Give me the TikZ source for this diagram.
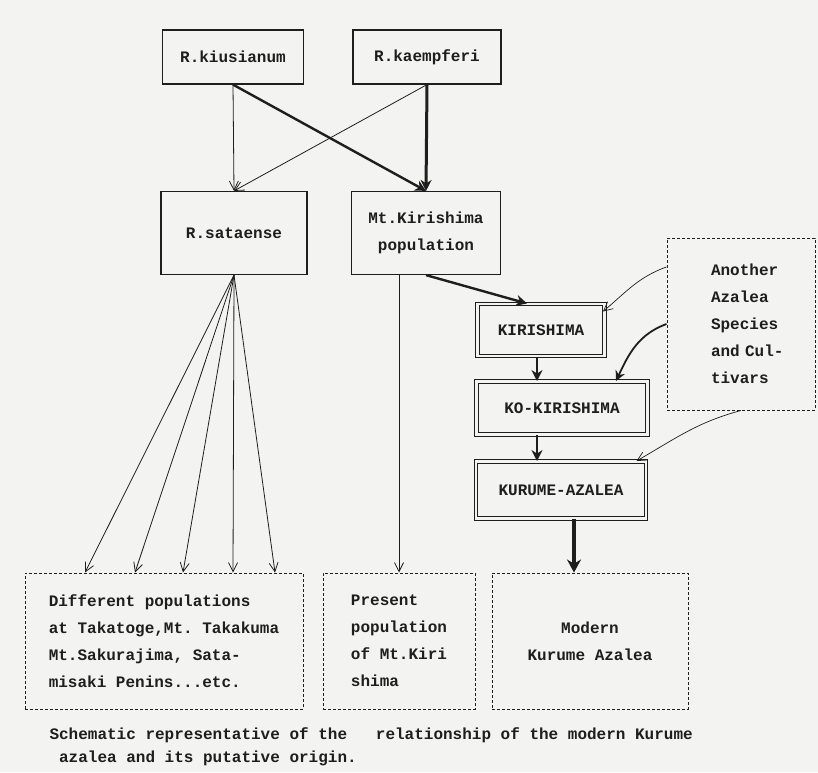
\documentclass[tikz,border=0pt]{standalone}
\usepackage{fontspec}
\setmonofont{Liberation Mono}
\usepackage{tikz}
\usetikzlibrary{arrows.meta, calc}
\definecolor{paper}{HTML}{F3F3F1}
\definecolor{ink}{HTML}{1E1E1E}

\begin{document}
\begin{tikzpicture}[x=1pt,y=-1pt,
  every node/.style={font=\fontsize{16}{27}\selectfont\ttfamily\bfseries,text=ink},
  plainbox/.style={draw=ink,line width=1.2pt,inner sep=0pt},
  dblbox/.style={draw=ink,double=paper,double distance=2.4pt,line width=1pt,inner sep=0pt},
  dotbox/.style={draw=ink,densely dashed,line width=1pt,inner sep=0pt},
  thinarrow/.style={draw=ink,line width=0.8pt,-{Straight Barb[length=9pt,width=9pt]}},
  heavyarrow/.style={draw=ink,line width=2.4pt,-{Stealth[length=11pt,width=11pt]}}]
  \useasboundingbox[fill=paper] (0,0) rectangle (818,772);
  \node[plainbox,minimum width=141pt,minimum height=54pt] (kiu) at (233,57) {R.kiusianum};
  \node[plainbox,minimum width=148pt,minimum height=54pt] (kae) at (427,57) {R.kaempferi};
  \node[plainbox,minimum width=146pt,minimum height=83pt] (sat) at (234,233) {R.sataense};
  \node[plainbox,minimum width=149pt,minimum height=83pt,align=center] (mtk) at (426,233) {Mt.Kirishima\\population};
  \node[dblbox,minimum width=127pt,minimum height=52pt] (kiri) at (541,330) {KIRISHIMA};
  \node[dblbox,minimum width=171pt,minimum height=53pt] (kokiri) at (562,408) {KO-KIRISHIMA};
  \node[dblbox,minimum width=170pt,minimum height=57pt] (kurume) at (561,490) {KURUME-AZALEA};
  \node[dotbox,minimum width=148pt,minimum height=172pt,align=left,text width=104pt] (other) at (741,324)
    {\hspace*{22pt}Another\\\hspace*{22pt}Azalea\\\hspace*{22pt}Species\\\hspace*{22pt}and Cul-\\\hspace*{22pt}tivars};
  \node[dotbox,minimum width=278pt,minimum height=136pt,align=left] (diff) at (164,641)
    {Different populations\\at Takatoge,Mt. Takakuma\\Mt.Sakurajima, Sata-\\misaki Penins...etc.};
  \node[dotbox,minimum width=152pt,minimum height=136pt,align=left] (pres) at (399,641)
    {Present\\population\\of Mt.Kiri\\shima};
  \node[dotbox,minimum width=196pt,minimum height=136pt,align=center] (modern) at (590,641)
    {Modern\\Kurume Azalea};
  \node[anchor=north west,align=left,font=\fontsize{16}{23}\selectfont\ttfamily\bfseries] (caption) at (46,724)
    {Schematic representative of the\ \ \ relationship of the modern Kurume\\\ azalea and its putative origin.};

  \draw[thinarrow] (kiu.south) -- (sat.north);
  \draw[thinarrow] (kae.south) -- (sat.north);
  \draw[heavyarrow] (kiu.south) -- (mtk.north);
  \draw[heavyarrow,line width=3pt] (kae.south) -- (mtk.north);
  \foreach \dx in {-79,-29,19,69,111}
    \draw[thinarrow] (sat.south) -- ([xshift=\dx pt]diff.north);
  \draw[thinarrow] (mtk.south -| pres.north) -- (pres.north);
  \draw[heavyarrow] (mtk.south) -- ([xshift=-14pt]kiri.north);
  \draw[heavyarrow] ([xshift=-4pt]kiri.south) -- ([xshift=-4pt]kiri.south |- kokiri.north);
  \draw[heavyarrow] ([xshift=-25pt]kokiri.south) -- ([xshift=-25pt]kokiri.south |- kurume.north);
  \draw[heavyarrow,line width=4pt,-{Stealth[length=13pt,width=14pt]}] ([xshift=13pt]kurume.south) -- ([xshift=13pt]kurume.south |- modern.north);
  \draw[thinarrow,line width=0.7pt] ($(other.north west)!0.17!(other.south west)$) to[out=200,in=40] ([xshift=-2pt,yshift=-8pt]kiri.north east);
  \draw[heavyarrow,line width=1.8pt,-{Stealth[length=10pt,width=10pt]}] ($(other.north west)!0.5!(other.south west)$) to[out=200,in=65] ([xshift=-32pt]kokiri.north east);
  \draw[thinarrow,line width=0.7pt] ($(other.south west)!0.5!(other.south east)$) to[out=195,in=30] ([xshift=-10pt]kurume.north east);
\end{tikzpicture}
\end{document}
